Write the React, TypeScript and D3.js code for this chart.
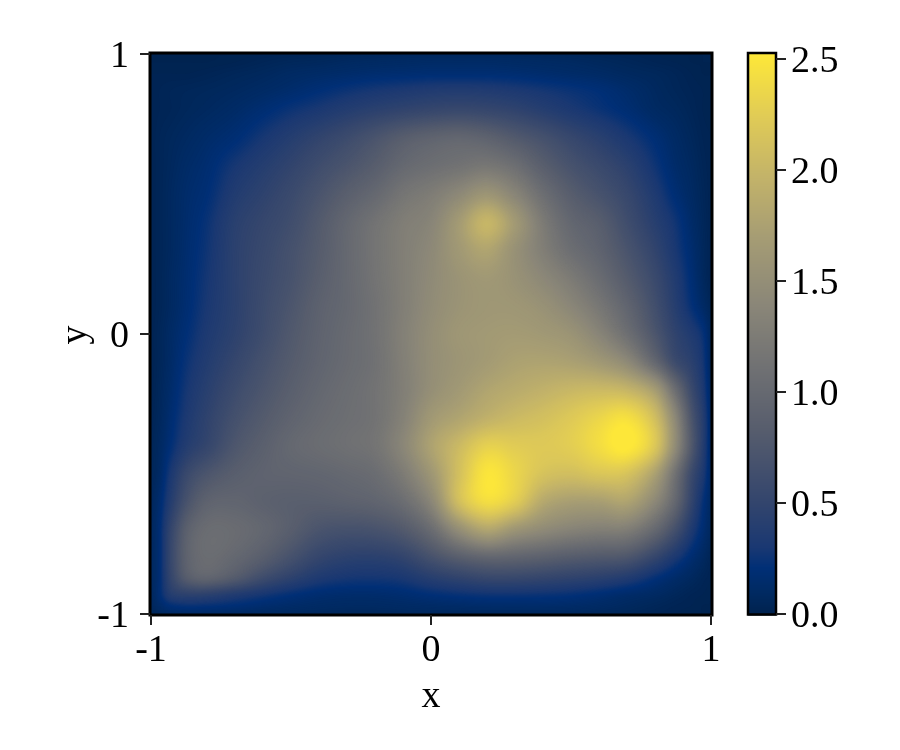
import React, { useMemo } from "react";
import * as d3 from "d3";

const xCoords = [-1, -0.97, -0.93, -0.87, -0.8, -0.7, -0.6, -0.5, -0.4, -0.3, -0.2, -0.1, 0, 0.1, 0.2, 0.3, 0.4, 0.5, 0.6, 0.7, 0.8, 0.87, 0.93, 0.97, 1];
const yCoords = [1, 0.97, 0.93, 0.87, 0.8, 0.7, 0.6, 0.5, 0.4, 0.3, 0.2, 0.1, 0, -0.1, -0.2, -0.3, -0.4, -0.5, -0.6, -0.7, -0.8, -0.87, -0.93, -0.97, -1];

const density = [
  [.02,.02,.02,.02,.02,.02,.03,.04,.05,.06,.07,.08,.08,.08,.08,.08,.07,.06,.05,.04,.03,.02,.02,.02,.02],
  [.02,.02,.02,.02,.02,.03,.05,.07,.08,.1,.11,.12,.13,.13,.13,.12,.11,.1,.08,.06,.04,.03,.02,.02,.02],
  [.03,.03,.03,.03,.04,.06,.08,.11,.13,.15,.17,.18,.19,.19,.19,.18,.16,.14,.12,.09,.07,.05,.03,.02,.02],
  [.03,.04,.05,.06,.07,.09,.12,.16,.21,.26,.3,.33,.36,.37,.36,.33,.29,.25,.21,.15,.09,.06,.04,.03,.02],
  [.03,.04,.05,.07,.09,.13,.19,.26,.32,.39,.45,.5,.54,.56,.54,.49,.41,.33,.26,.19,.11,.08,.05,.03,.02],
  [.03,.05,.07,.1,.14,.2,.3,.4,.5,.6,.72,.85,.93,.97,.92,.8,.68,.55,.44,.32,.2,.12,.07,.04,.03],
  [.03,.05,.08,.13,.18,.3,.4,.5,.62,.73,.85,1.0,1.08,1.14,1.2,1.09,.87,.7,.58,.45,.27,.15,.09,.05,.03],
  [.03,.05,.09,.15,.21,.37,.47,.58,.72,.87,1.0,1.17,1.27,1.43,1.6,1.38,1.08,.85,.7,.55,.35,.2,.11,.06,.03],
  [.03,.05,.09,.16,.25,.43,.53,.63,.8,.98,1.14,1.28,1.38,1.68,2.0,1.66,1.25,.98,.85,.63,.42,.28,.14,.07,.03],
  [.03,.05,.09,.17,.27,.45,.56,.68,.83,1.0,1.16,1.3,1.43,1.65,1.8,1.55,1.3,1.08,.93,.72,.5,.32,.17,.08,.03],
  [.03,.05,.1,.18,.29,.45,.58,.7,.86,1.0,1.15,1.3,1.45,1.58,1.65,1.56,1.42,1.25,1.05,.82,.58,.38,.2,.09,.03],
  [.03,.05,.1,.19,.31,.45,.6,.74,.9,1.0,1.13,1.3,1.47,1.58,1.63,1.62,1.55,1.4,1.2,.95,.65,.42,.24,.13,.05],
  [.03,.06,.12,.22,.34,.47,.62,.78,.92,1.02,1.13,1.32,1.5,1.62,1.66,1.68,1.65,1.58,1.38,1.1,.75,.5,.36,.25,.08],
  [.03,.06,.13,.26,.38,.53,.68,.82,.94,1.03,1.12,1.31,1.5,1.6,1.68,1.76,1.78,1.75,1.65,1.45,1.0,.62,.45,.3,.08],
  [.03,.07,.15,.3,.43,.6,.74,.87,.98,1.06,1.14,1.3,1.52,1.66,1.8,1.88,1.95,2.02,2.05,2.0,1.7,1.1,.6,.35,.1],
  [.04,.08,.18,.34,.48,.67,.81,.93,1.02,1.08,1.14,1.34,1.65,1.8,1.95,2.05,2.12,2.22,2.35,2.45,2.1,1.45,.75,.42,.12],
  [.05,.1,.22,.4,.53,.75,.88,.99,1.05,1.1,1.16,1.4,1.77,2.05,2.3,2.25,2.22,2.27,2.42,2.55,2.2,1.5,.8,.42,.12],
  [.06,.12,.32,.58,.74,.86,.92,.94,.96,1.0,1.06,1.26,1.62,2.12,2.5,2.35,2.15,2.1,2.18,2.15,1.75,1.15,.6,.35,.12],
  [.07,.17,.4,.72,.92,.95,.9,.87,.87,.9,.94,1.07,1.4,2.1,2.42,2.25,1.85,1.72,1.72,1.78,1.42,1.0,.52,.25,.1],
  [.08,.2,.52,.9,1.05,1.04,.97,.85,.72,.68,.7,.8,1.05,1.5,1.8,1.6,1.45,1.35,1.3,1.28,1.0,.68,.36,.19,.08],
  [.09,.2,.55,.93,1.05,.98,.85,.68,.52,.45,.44,.5,.68,.85,.95,.93,.88,.82,.78,.74,.52,.33,.18,.1,.04],
  [.09,.2,.52,.85,.95,.82,.62,.47,.35,.3,.29,.32,.42,.5,.56,.56,.53,.49,.45,.38,.24,.15,.09,.05,.03],
  [.08,.2,.4,.47,.46,.38,.3,.23,.18,.16,.16,.18,.22,.25,.27,.27,.26,.24,.2,.15,.11,.07,.04,.03,.02],
  [.07,.14,.22,.25,.24,.21,.17,.14,.12,.11,.11,.12,.13,.14,.15,.15,.15,.14,.12,.09,.06,.04,.03,.02,.02],
  [.05,.08,.11,.12,.12,.11,.1,.09,.08,.07,.07,.08,.08,.08,.08,.08,.08,.08,.07,.06,.04,.03,.02,.02,.02],
];

const xTicks = [-1, 0, 1];
const yTicks = [-1, 0, 1];
const barTicks = [0, 0.5, 1, 1.5, 2, 2.5];
const vMax = 2.527;
const cmapStops = [0, 0.04, 0.083, 0.12, 0.2, 0.33, 0.44, 0.55, 0.67, 0.78, 0.89, 1];
const cmapColors = ["#00224e", "#002a62", "#002f76", "#1a3872", "#33456d", "#575d6d", "#707173", "#8a8678", "#a59c74", "#c3b369", "#e1cc55", "#fee838"];

const font = "'Liberation Serif', serif";
const fs = 38;
const cell = 2;
const N = 281;

// Cubic Hermite sampling through the read values, on the uneven coordinates.
function slopes(xs: number[], ys: number[]) {
  return xs.map((_, i) => {
    const a = Math.max(0, i - 1);
    const b = Math.min(xs.length - 1, i + 1);
    return (ys[b] - ys[a]) / (xs[b] - xs[a]);
  });
}
function hermite(xs: number[], ys: number[], m: number[], t: number) {
  const x = Math.max(xs[0], Math.min(xs[xs.length - 1], t));
  let i = d3.bisectRight(xs, x) - 1;
  i = Math.max(0, Math.min(xs.length - 2, i));
  const h = xs[i + 1] - xs[i];
  const s = (x - xs[i]) / h;
  const s2 = s * s;
  const s3 = s2 * s;
  return (2 * s3 - 3 * s2 + 1) * ys[i] + (s3 - 2 * s2 + s) * h * m[i] + (-2 * s3 + 3 * s2) * ys[i + 1] + (s3 - s2) * h * m[i + 1];
}

export default function App() {
  const x = d3.scaleLinear().domain([-1, 1]).range([151, 711]);
  const y = d3.scaleLinear().domain([-1, 1]).range([614, 54]);
  const bar = d3.scaleLinear().domain([0, 2.5]).range([614, 59]);
  const color = d3.scaleLinear<string>().domain(cmapStops.map((t) => t * vMax)).range(cmapColors).clamp(true);

  const layers = useMemo(() => {
    const ysAsc = [...yCoords].reverse();
    const colSamples: number[][] = density.map((row) => {
      const m = slopes(xCoords, row);
      return d3.range(N).map((i) => hermite(xCoords, row, m, x.invert(150 + (i + 0.5) * cell)));
    });
    const values = new Array(N * N);
    for (let i = 0; i < N; i++) {
      const col = colSamples.map((r) => r[i]).reverse();
      const m = slopes(ysAsc, col);
      for (let j = 0; j < N; j++) {
        values[j * N + i] = hermite(ysAsc, col, m, y.invert(53 + (j + 0.5) * cell));
      }
    }
    const thresholds = d3.range(0.01, vMax, 0.01);
    const gen = d3.contours().size([N, N]).thresholds(thresholds);
    const path = d3.geoPath(d3.geoIdentity().scale(cell).translate([150, 53])).digits(1);
    return gen(values).map((c) => ({ v: c.value, d: path(c) || "" }));
  }, []);

  const barPixels = d3.range(53, 615);
  const barY = d3.scaleLinear().domain([0, vMax]).range([614.5, 53]);

  return (
    <svg width={900} height={750} style={{ position: "fixed", left: 0, top: 0 }} fontFamily={font} fontSize={fs} fill="#000">
      <rect x={150} y={53} width={562} height={562} fill={color(0)} />
      {layers.map((l, i) => (
        <path key={i} d={l.d} fill={color(l.v)} />
      ))}
      <rect x={150} y={53} width={562} height={562} fill="none" stroke="#000" strokeWidth={3} />

      {xTicks.map((t) => (
        <g key={t}>
          <line x1={x(t)} x2={x(t)} y1={615} y2={625} stroke="#222" strokeWidth={2} />
          <text x={x(t)} y={661} textAnchor="middle">{t}</text>
        </g>
      ))}
      {yTicks.map((t) => (
        <g key={t}>
          <line x1={140} x2={150} y1={y(t)} y2={y(t)} stroke="#222" strokeWidth={2} />
          <text x={129} y={y(t) + 13} textAnchor="end">{t}</text>
        </g>
      ))}
      <text x={431} y={707} textAnchor="middle">x</text>
      <text transform="translate(86,335) rotate(-90)" textAnchor="middle">y</text>

      {barPixels.map((p) => (
        <rect key={p} x={748} width={28} y={p} height={1.5} fill={color(barY.invert(p + 0.5))} />
      ))}
      <rect x={748} y={53} width={28} height={561.5} fill="none" stroke="#000" strokeWidth={2.5} />
      {barTicks.map((t) => (
        <g key={t}>
          <line x1={776} x2={786} y1={bar(t)} y2={bar(t)} stroke="#222" strokeWidth={2} />
          <text x={791} y={bar(t) + 13}>{t.toFixed(1)}</text>
        </g>
      ))}
    </svg>
  );
}
